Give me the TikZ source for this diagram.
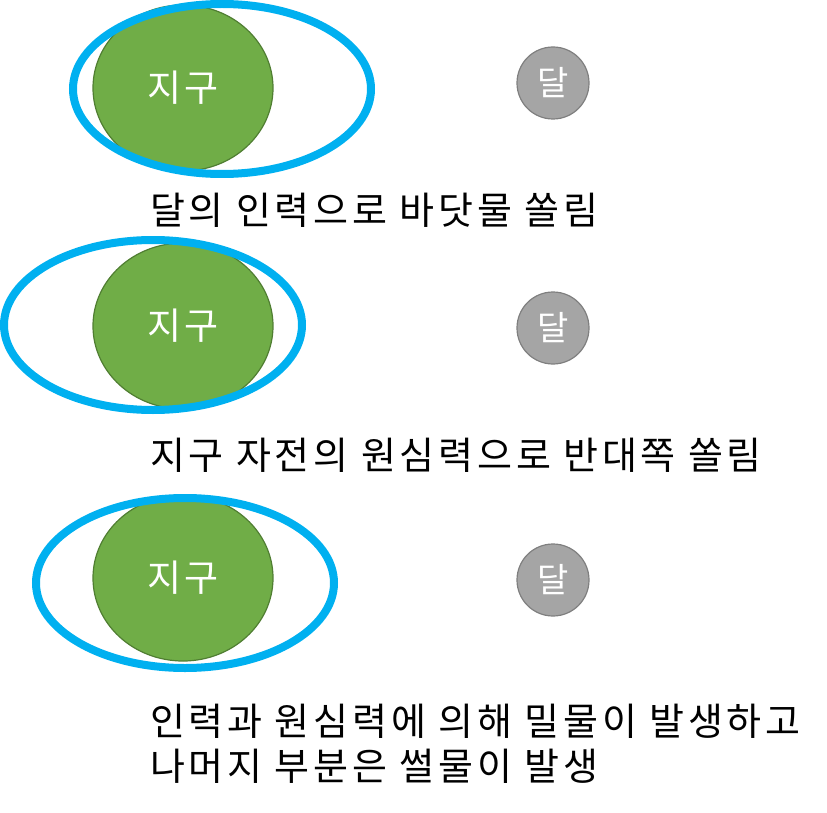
\documentclass[tikz,border=0pt]{standalone}
\usepackage{fontspec}
\usetikzlibrary{shapes.geometric}
\newfontfamily\kr{Noto Sans CJK KR}
\newfontfamily\krsp[LetterSpace=10]{Noto Sans CJK KR}
\definecolor{earthgreen}{HTML}{70AD47}
\definecolor{earthline}{HTML}{507E32}
\definecolor{tideblue}{HTML}{00B0F0}
\definecolor{moongray}{HTML}{A5A5A5}
\definecolor{moonline}{HTML}{7F7F7F}
\begin{document}
\begin{tikzpicture}[x=1pt,y=-1pt,
  earth/.style={ellipse,draw=earthline,line width=1.2pt,fill=earthgreen,minimum width=180pt,minimum height=166pt,inner sep=0pt,text=white,font=\krsp\fontsize{37}{44}\selectfont},
  moon/.style={circle,draw=moonline,line width=1.2pt,fill=moongray,minimum size=72pt,inner sep=0pt,text=white,font=\kr\fontsize{34}{40}\selectfont},
  tide/.style={ellipse,draw=tideblue,line width=8pt,minimum width=298pt,minimum height=170pt,inner sep=0pt},
  caption/.style={anchor=west,inner sep=0pt,align=left,text=black,font=\krsp\fontsize{38}{45}\selectfont}]
\useasboundingbox (0,0) rectangle (827,813);
% row 1
\node[earth] (e1) at (183,88) {지구};
\node[tide] (t1) at (222,89) {};
\node[moon] (m1) at (553,83) {달};
\node[caption] (c1) at (150,210) {달의 인력으로 바닷물 쏠림};
% row 2
\node[earth] (e2) at (183,326) {지구};
\node[tide] (t2) at (153,325) {};
\node[moon] (m2) at (553,328) {달};
\node[caption] (c2) at (150,455) {지구 자전의 원심력으로 반대쪽 쏠림};
% row 3
\node[earth] (e3) at (183,578) {지구};
\node[tide] (t3) at (185,583) {};
\node[moon] (m3) at (553,580) {달};
\node[caption] (c3) at (150,744) {인력과 원심력에 의해 밀물이 발생하고\\나머지 부분은 썰물이 발생};
\end{tikzpicture}
\end{document}
